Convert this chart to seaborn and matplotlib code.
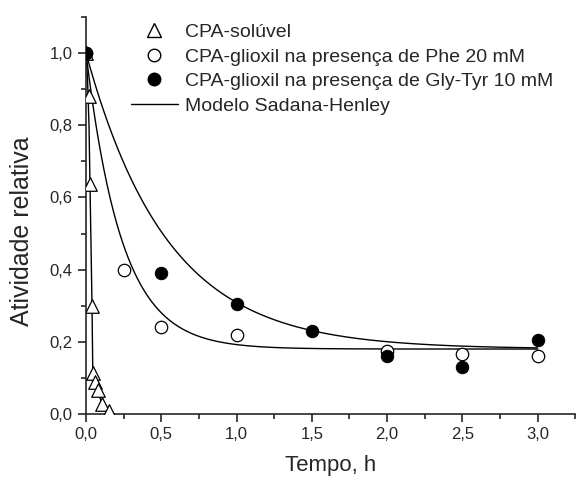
import numpy as np
import pandas as pd
import matplotlib
matplotlib.use("Agg")
import matplotlib.pyplot as plt
from matplotlib.ticker import MultipleLocator, FuncFormatter
from matplotlib.lines import Line2D
import seaborn as sns

sns.set_style("ticks")
plt.rcParams["font.family"] = ["Liberation Sans", "DejaVu Sans"]

# --- data ---
t_sol = [0.0, 0.02, 0.025, 0.04, 0.045, 0.06, 0.077, 0.107, 0.15]
a_sol = [1.0, 0.88, 0.636, 0.30, 0.115, 0.089, 0.067, 0.028, 0.008]

t_phe = [0.0, 0.25, 0.5, 1.0, 2.0, 2.5, 3.0]
a_phe = [1.0, 0.40, 0.24, 0.22, 0.175, 0.165, 0.16]

t_gly = [0.0, 0.5, 1.0, 1.5, 2.0, 2.5, 3.0]
a_gly = [1.0, 0.39, 0.305, 0.23, 0.16, 0.13, 0.205]

# model line for the soluble enzyme
t_sol_fit = [0.0, 0.01, 0.02, 0.03, 0.04, 0.045, 0.06, 0.08, 0.11, 0.16]
a_sol_fit = [1.0, 0.93, 0.80, 0.55, 0.30, 0.12, 0.085, 0.06, 0.025, 0.0]

# Sadana-Henley fit parameters (residual activity, rate constant 1/h)
alpha_fit = [0.18, 0.18]
k_fit = [4.2, 1.85]
t_end = 3.0

t_model = np.linspace(0, t_end, 300)
fits = [a + (1 - a) * np.exp(-k * t_model) for a, k in zip(alpha_fit, k_fit)]

fig = plt.figure(figsize=(5.87, 4.84), dpi=100)
ax = fig.add_axes([0.1465, 0.1446, 0.8335, 0.8204])

line_kw = dict(color="black", linewidth=1.0, ax=ax, legend=False)
sns.lineplot(x=t_sol_fit, y=a_sol_fit, **line_kw)
for f in fits:
    sns.lineplot(x=t_model, y=f, **line_kw)

sns.scatterplot(x=t_sol, y=a_sol, marker="^", s=95, facecolor="white",
                edgecolor="black", linewidth=0.9, ax=ax, zorder=3)
sns.scatterplot(x=t_phe, y=a_phe, marker="o", s=80, facecolor="white",
                edgecolor="black", linewidth=0.9, ax=ax, zorder=3)
sns.scatterplot(x=t_gly, y=a_gly, marker="o", s=80, color="black",
                edgecolor="black", ax=ax, zorder=4)

ax.set_xlim(0, 3.25)
ax.set_ylim(0, 1.1)
ax.xaxis.set_major_locator(MultipleLocator(0.5))
ax.xaxis.set_minor_locator(MultipleLocator(0.25))
ax.yaxis.set_major_locator(MultipleLocator(0.2))
ax.yaxis.set_minor_locator(MultipleLocator(0.1))
comma = FuncFormatter(lambda v, p: f"{v:.1f}".replace(".", ","))
ax.xaxis.set_major_formatter(comma)
ax.yaxis.set_major_formatter(comma)
ax.tick_params(which="major", length=6, width=1.2, labelsize=12, direction="out")
ax.tick_params(which="minor", length=3.5, width=1.2, direction="out")
for s in ["top", "right"]:
    ax.spines[s].set_visible(False)
for s in ["left", "bottom"]:
    ax.spines[s].set_linewidth(1.2)

ax.set_xlabel("Tempo, h", fontsize=16, labelpad=9)
ax.set_ylabel("Atividade relativa", fontsize=18)
ax.yaxis.set_label_coords(-0.106, 0.461)

handles = [
    Line2D([], [], marker="^", linestyle="none", markersize=10.5,
           markerfacecolor="white", markeredgecolor="black"),
    Line2D([], [], marker="o", linestyle="none", markersize=9,
           markerfacecolor="white", markeredgecolor="black"),
    Line2D([], [], marker="o", linestyle="none", markersize=9,
           markerfacecolor="black", markeredgecolor="black"),
    Line2D([], [], color="black", linewidth=1.0),
]
labels = ["CPA-solúvel",
          "CPA-glioxil na presença de Phe 20 mM",
          "CPA-glioxil na presença de Gly-Tyr 10 mM",
          "Modelo Sadana-Henley"]
fig.legend(handles, labels, loc="upper left", bbox_to_anchor=(0.2, 0.98),
           frameon=False, fontsize=14, handlelength=2.4, handletextpad=0.4,
           labelspacing=0.36, borderpad=0.2)

fig.savefig("out.png", dpi=100)
